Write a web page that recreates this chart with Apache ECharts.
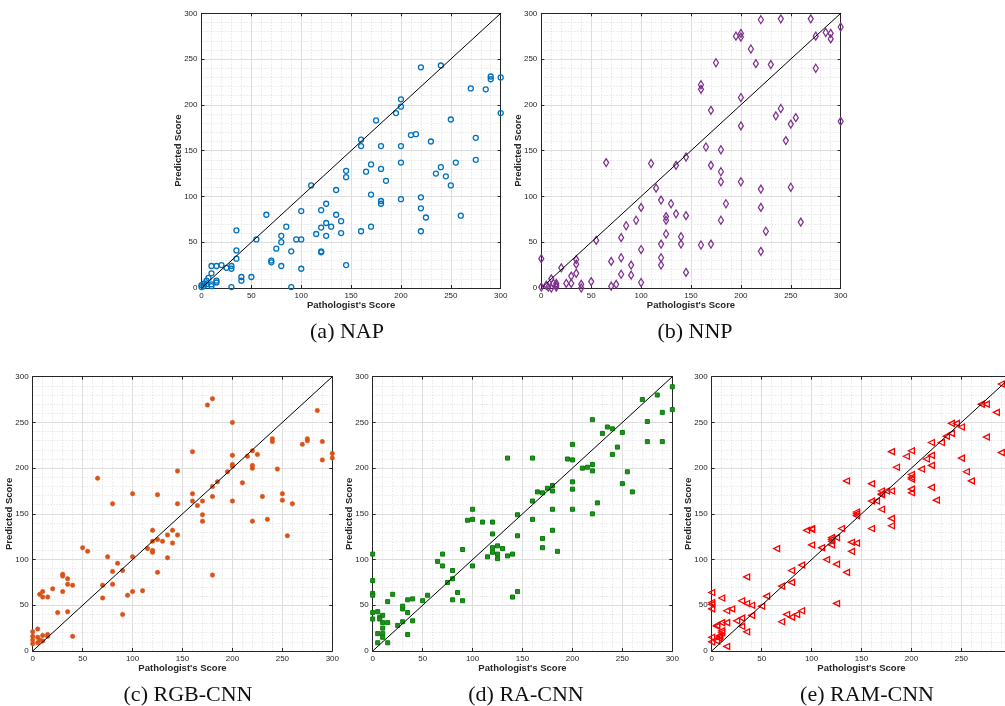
<!DOCTYPE html>
<html>
<head>
<meta charset="utf-8">
<script src="https://cdn.jsdelivr.net/npm/echarts@6/dist/echarts.min.js"></script>
<style>html,body{margin:0;padding:0;background:#fff;}#c{width:1005px;height:706px;}</style>
</head>
<body>
<div id="c"></div>
<script>
// ---- data: [pathologist score, predicted score] ----
const napData = [
[220,241],[240,243],[290,231],[290,228],[300,230],[300,191],[270,218],[285,217],[200,206],[200,198],
[195,191],[175,183],[250,184],[210,167],[215,168],[230,160],[160,162],[160,155],[180,155],[200,155],
[275,164],[275,140],[255,137],[200,137],[170,135],[240,132],[235,125],[245,122],[250,112],[180,130],
[165,127],[185,117],[145,128],[145,121],[135,107],[110,112],[170,102],[180,95],[180,92],[200,97],
[220,99],[220,87],[225,77],[260,79],[220,62],[160,62],[170,67],[125,92],[120,85],[135,80],
[140,73],[125,71],[130,67],[120,66],[125,57],[115,59],[140,60],[120,40],[120,39],[145,25],
[100,84],[65,80],[85,67],[80,57],[80,50],[95,53],[100,53],[75,43],[90,40],[70,30],
[70,28],[80,24],[100,21],[90,1],[55,53],[35,63],[35,41],[35,32],[50,12],[40,12],
[40,8],[30,24],[30,21],[25,22],[20,25],[15,24],[10,24],[10,16],[15,8],[15,6],
[10,4],[10,2],[7,11],[5,8],[0,3],[0,1],[30,1],[2,2],[5,4],[3,5]
];
const nnpData = [
[220,293],[240,294],[270,294],[195,275],[200,278],[200,274],[285,279],[290,278],[290,272],[275,275],
[300,285],[210,261],[215,245],[175,246],[230,244],[275,240],[160,222],[160,217],[200,208],[170,194],
[240,196],[235,188],[255,186],[250,179],[200,177],[300,182],[245,161],[165,154],[180,151],[145,143],
[135,134],[170,134],[180,127],[180,116],[200,116],[65,137],[110,136],[115,109],[220,108],[250,110],
[120,96],[130,92],[185,92],[100,88],[220,88],[135,81],[145,79],[125,78],[125,74],[95,74],
[180,74],[260,72],[85,68],[225,62],[125,59],[55,52],[80,55],[140,56],[100,42],[220,40],
[120,48],[140,48],[160,47],[170,48],[70,29],[80,33],[120,33],[90,25],[120,25],[35,31],
[35,26],[35,16],[20,22],[30,13],[30,5],[25,5],[50,7],[80,15],[90,14],[100,6],
[145,17],[40,4],[40,0],[70,2],[75,4],[0,32],[0,1],[10,10],[15,5],[15,3],
[15,1],[10,0],[5,3],[7,1],[12,5]
];
const rgbData = [
[285,263],[180,276],[175,269],[200,250],[160,218],[275,230],[275,232],[270,226],[290,229],[240,232],
[240,229],[220,219],[225,215],[215,213],[200,214],[200,204],[200,202],[220,203],[220,200],[300,216],
[300,211],[290,209],[245,199],[195,196],[65,189],[145,197],[185,185],[210,184],[180,180],[100,172],
[125,171],[160,172],[250,172],[230,169],[180,169],[250,165],[160,164],[170,164],[200,164],[80,161],
[145,161],[165,159],[260,161],[170,149],[170,142],[220,142],[235,144],[120,132],[140,132],[135,127],
[145,127],[125,122],[130,120],[120,120],[140,118],[255,126],[115,112],[120,110],[120,108],[50,113],
[55,109],[75,103],[100,103],[135,102],[85,96],[90,88],[80,87],[125,86],[180,83],[30,84],
[30,82],[35,79],[35,73],[40,72],[20,68],[70,72],[80,73],[110,66],[100,65],[30,65],
[10,65],[7,62],[10,59],[15,59],[95,61],[70,58],[25,42],[35,43],[90,40],[40,16],
[0,21],[5,24],[0,16],[0,12],[0,8],[5,15],[10,17],[15,18],[7,12],[5,9],
[10,11],[15,16]
];
const raData = [
[300,289],[300,264],[285,280],[270,275],[275,251],[290,261],[275,229],[290,229],[220,253],[235,245],
[240,243],[230,238],[250,239],[245,223],[240,215],[200,226],[195,210],[200,209],[135,211],[160,211],
[210,200],[215,201],[220,204],[220,197],[255,196],[200,185],[180,181],[175,178],[165,174],[170,173],
[180,175],[200,177],[250,183],[260,174],[160,164],[225,162],[100,155],[180,155],[200,155],[145,149],
[220,150],[160,144],[95,143],[100,144],[110,141],[120,141],[120,128],[145,126],[180,132],[170,123],
[170,113],[120,113],[120,108],[125,115],[125,106],[130,112],[115,103],[125,101],[135,104],[140,106],
[185,109],[90,111],[70,106],[65,98],[70,93],[100,93],[80,88],[80,79],[75,75],[85,64],
[80,56],[90,55],[145,65],[140,59],[55,61],[50,55],[40,57],[35,56],[30,46],[30,49],
[35,42],[40,33],[30,32],[25,28],[35,18],[20,62],[15,54],[15,31],[15,9],[10,39],
[10,31],[10,25],[10,19],[10,15],[5,43],[5,19],[5,9],[7,37],[7,35],[0,106],
[0,77],[0,63],[0,61],[0,42],[0,35]
];
const ramData = [
[290,292],[270,270],[275,270],[285,261],[240,249],[245,249],[250,245],[240,238],[235,235],[275,234],
[230,228],[220,228],[290,217],[200,219],[180,218],[195,213],[220,214],[215,210],[250,211],[210,199],
[220,203],[185,201],[200,193],[200,190],[200,188],[255,196],[260,186],[135,186],[160,183],[220,179],
[200,177],[200,173],[180,175],[175,175],[170,175],[170,172],[170,171],[225,165],[160,164],[165,164],
[170,155],[145,152],[145,150],[145,148],[180,145],[180,137],[160,134],[130,134],[95,132],[100,133],
[100,134],[120,124],[120,122],[120,120],[125,124],[120,116],[100,116],[110,113],[65,112],[140,119],
[145,118],[140,109],[115,100],[125,95],[135,86],[35,81],[80,88],[90,94],[70,71],[80,75],
[55,60],[50,49],[40,50],[35,52],[30,55],[10,58],[0,64],[0,53],[0,51],[0,46],
[20,46],[15,44],[40,39],[80,37],[85,40],[75,40],[90,44],[125,52],[70,32],[30,36],
[25,33],[30,27],[35,21],[10,31],[15,31],[5,28],[5,27],[10,22],[10,20],[8,17],
[8,16],[7,14],[0,15],[0,10],[5,11],[15,5]
];
const diagonal = [[0,0],[300,300]];
const captions = ['(a) NAP','(b) NNP','(c) RGB-CNN','(d) RA-CNN','(e) RAM-CNN'];
const xName = "Pathologist's Score";
const yName = 'Predicted Score';

// ---- layout / style ----
const grids = [
  {left:201.5, top:13.3, width:299.2, height:274.7},
  {left:541.3, top:13.3, width:299.4, height:274.7},
  {left:32.7, top:376.7, width:299.6, height:274.3},
  {left:372.7, top:376.7, width:299.6, height:274.3},
  {left:711.7, top:376.7, width:299.6, height:274.3}
];
const capPos = [[342,327],[690,327],[183,690],[521,690],[862,690]];
const panels = [
  {data:napData, symbol:'circle', size:5, fill:'rgba(0,0,0,0)', stroke:'#0072BD', bw:1.3, rot:0},
  {data:nnpData, symbol:'diamond', size:[5,8], fill:'rgba(0,0,0,0)', stroke:'#7E2F8E', bw:1.3, rot:0},
  {data:rgbData, symbol:'circle', size:4.5, fill:'#D95319', stroke:'#D95319', bw:0.5, rot:0},
  {data:raData, symbol:'rect', size:4, fill:'#2a8a2a', stroke:'#008000', bw:1, rot:0},
  {data:ramData, symbol:'triangle', size:6, fill:'rgba(0,0,0,0)', stroke:'#FF0000', bw:1.3, rot:90}
];

const axisColor = '#262626';
function mkAxis(kind, gi, pos, main){
  const a = {
    type:'value', gridIndex:gi, min:0, max:300, interval:50, position:pos,
    axisLine:{show:true, onZero:false, lineStyle:{color:axisColor, width:1}},
    axisTick:{show:true, inside:true, length:3, lineStyle:{color:axisColor, width:1}},
    splitLine:{show:main, lineStyle:{color:'#dedede', width:1}},
    minorTick:{show:false, splitNumber:5},
    minorSplitLine:{show:main, lineStyle:{color:'#cfcfcf', width:0.7, type:[1,2]}},
    axisLabel:{show:main, color:axisColor, fontSize:8, fontFamily:'Liberation Sans, Arial, sans-serif', margin:4},
    z:3
  };
  if (main){
    a.name = kind==='x' ? xName : yName;
    a.nameLocation = 'middle';
    a.nameGap = kind==='x' ? 12 : 18;
    a.nameMoveOverlap = false;
    a.nameTextStyle = {color:axisColor, fontSize:9.5, fontWeight:'bold', fontFamily:'Liberation Sans, Arial, sans-serif'};
  }
  return a;
}

const xAxes = [], yAxes = [], series = [], titles = [];
grids.forEach((g,i)=>{
  xAxes.push(mkAxis('x', i, 'bottom', true));
  xAxes.push(mkAxis('x', i, 'top', false));
  yAxes.push(mkAxis('y', i, 'left', true));
  yAxes.push(mkAxis('y', i, 'right', false));
  const p = panels[i];
  series.push({
    type:'scatter', xAxisIndex:2*i, yAxisIndex:2*i, data:p.data,
    symbol:p.symbol, symbolSize:p.size, symbolRotate:p.rot,
    itemStyle:{color:p.fill, borderColor:p.stroke, borderWidth:p.bw, opacity:1},
    z:4
  });
  series.push({
    type:'line', xAxisIndex:2*i, yAxisIndex:2*i, data:diagonal,
    symbol:'none', lineStyle:{color:'#000', width:1}, z:5, silent:true
  });
  titles.push({
    text:captions[i], left:capPos[i][0], top:capPos[i][1], textAlign:'center', textVerticalAlign:'middle',
    textStyle:{fontFamily:'Liberation Serif, Times New Roman, serif', fontWeight:'normal', fontSize:22, color:'#111'}
  });
});

const chart = echarts.init(document.getElementById('c'), null, {renderer:'canvas'});
chart.setOption({
  animation:false,
  backgroundColor:'#fff',
  title: titles,
  grid: grids.map(g=>Object.assign({containLabel:false, outerBoundsMode:'none'}, g)),
  xAxis: xAxes,
  yAxis: yAxes,
  series: series
});
</script>
</body>
</html>
